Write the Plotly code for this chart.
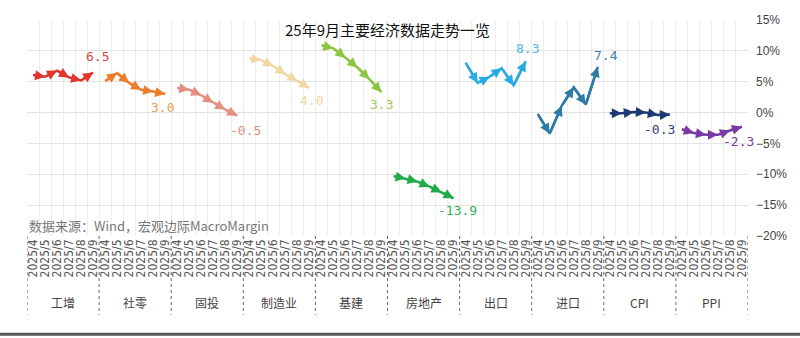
import plotly.graph_objects as go

months = ["2025/4", "2025/5", "2025/6", "2025/7", "2025/8", "2025/9"]
groups = ["工增", "社零", "固投", "制造业", "基建", "房地产", "出口", "进口", "CPI", "PPI"]

v_gongzeng = [6.1, 5.8, 6.8, 5.7, 5.2, 6.5]
v_sheling = [5.1, 6.4, 4.8, 3.7, 3.4, 3.0]
v_gutou = [4.0, 3.7, 2.8, 1.6, 0.5, -0.5]
v_zhizao = [8.8, 8.5, 7.5, 6.2, 5.1, 4.0]
v_jijian = [10.9, 10.4, 8.9, 7.3, 5.4, 3.3]
v_fangdichan = [-10.3, -10.7, -11.2, -12.0, -12.9, -13.9]
v_chukou = [8.1, 4.8, 5.8, 7.2, 4.4, 8.3]
v_jinkou = [-0.2, -3.4, 1.1, 4.1, 1.3, 7.4]
v_cpi = [-0.1, -0.1, 0.1, 0.0, -0.4, -0.3]
v_ppi = [-2.7, -3.3, -3.6, -3.6, -2.9, -2.3]

series = [v_gongzeng, v_sheling, v_gutou, v_zhizao, v_jijian,
          v_fangdichan, v_chukou, v_jinkou, v_cpi, v_ppi]
colors = ["#e0342c", "#ee7d2b", "#e48f80", "#f1d9a6", "#8cc541",
          "#22aa4a", "#2aaae2", "#2f79a6", "#1d3a74", "#7a3aa6"]
label_colors = ["#d8473f", "#e8a050", "#e48f80", "#efd6a2", "#9acb55",
                "#33b05a", "#4db6e6", "#3a7fab", "#2a4278", "#7a3aa6"]
# label offsets (px) relative to last point
label_shift = [(4, 16), (-3, -13), (8, -15), (2, -13), (0, -12),
               (4, -12), (2, 13), (8, 11), (-10, -15), (-3, -15)]

n = len(months)
fig = go.Figure()
for g, vals in enumerate(series):
    xs = [g * n + i for i in range(n)]
    fig.add_trace(go.Scatter(
        x=xs, y=vals, mode="lines",
        line=dict(color=colors[g], width=2.5),
        showlegend=False, hoverinfo="skip"))
    for i in range(1, n):
        fig.add_annotation(x=xs[i], y=vals[i], ax=xs[i - 1], ay=vals[i - 1],
                           xref="x", yref="y", axref="x", ayref="y",
                           text="", showarrow=True, arrowhead=2, arrowsize=0.8,
                           arrowwidth=2.5, arrowcolor=colors[g], standoff=0)
    fig.add_annotation(x=xs[-1], y=vals[-1], text=f"{vals[-1]:.1f}",
                       showarrow=False, xshift=label_shift[g][0], yshift=label_shift[g][1],
                       font=dict(size=13, color=label_colors[g], family="DejaVu Sans Mono"))

total = n * len(groups)
tickvals = list(range(total))
ticktext = months * len(groups)

fig.update_layout(
    width=800, height=338,
    margin=dict(l=27, r=52, t=20, b=102),
    paper_bgcolor="white", plot_bgcolor="white",
    font=dict(family="Noto Sans CJK SC, Noto Sans, sans-serif", color="#333"),
    xaxis=dict(range=[-0.5, total - 0.5], tickvals=tickvals, ticktext=ticktext,
               tickangle=-90, tickfont=dict(size=12, color="#555", family="Liberation Sans Narrow, DejaVu Sans Condensed, sans-serif"),
               showgrid=False, zeroline=False, showline=False, ticks="",
               minor=dict(tickvals=[k - 0.5 for k in range(total + 1)], showgrid=True,
                          gridcolor="#eeeeee", gridwidth=1, ticks="")),
    yaxis=dict(range=[-20, 15], dtick=5, ticksuffix="%", side="right",
               tickfont=dict(size=12, color="#444", family="Liberation Sans, sans-serif"),
               gridcolor="#e4e4e4", zeroline=False, showline=False, ticklabelstandoff=7),
)

# zero line dotted
fig.add_shape(type="line", xref="paper", yref="y", x0=0, x1=1, y0=0, y1=0,
              line=dict(color="#555", width=1, dash="dot"), layer="below")

# group separators & labels
for g in range(len(groups) + 1):
    fig.add_shape(type="line", xref="x", yref="paper", x0=g * n - 0.5, x1=g * n - 0.5,
                  y0=0, y1=-0.365, line=dict(color="#666", width=1, dash="dot"))
for g, name in enumerate(groups):
    fig.add_annotation(x=g * n + (n - 1) / 2, y=-0.31, xref="x", yref="paper",
                       text=name, showarrow=False, yanchor="middle",
                       font=dict(size=12, color="#444"))

# title
fig.add_annotation(x=0.5, y=0.955, xref="paper", yref="paper", text="25年9月主要经济数据走势一览",
                   showarrow=False, yanchor="middle",
                   font=dict(size=15, color="#111"))
# source
fig.add_annotation(x=0, y=0.05, xref="paper", yref="paper", xanchor="left", yanchor="middle",
                   text="数据来源：Wind，宏观边际MacroMargin", showarrow=False,
                   font=dict(size=13, color="#777"))
# bottom bar
fig.add_shape(type="line", xref="paper", yref="paper", x0=-0.05, x1=1.1,
              y0=-0.455, y1=-0.455, line=dict(color="#555", width=3))

fig.write_html("out.html")
